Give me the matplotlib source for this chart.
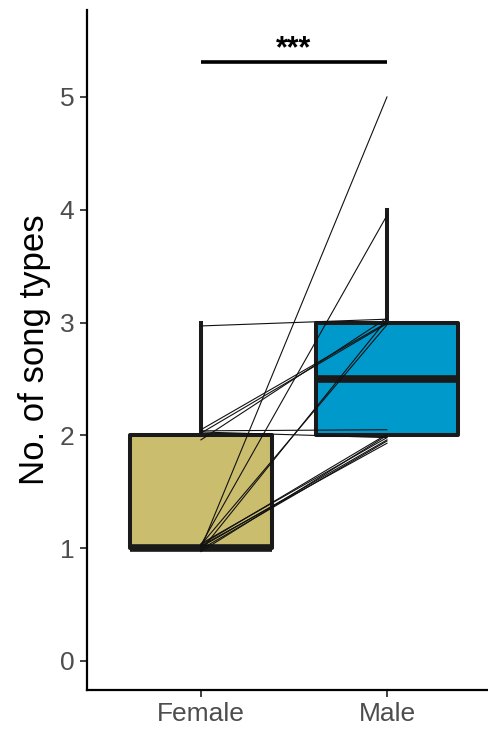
import matplotlib
matplotlib.use("Agg")
import matplotlib.pyplot as plt
import numpy as np

plt.rcParams['font.family'] = ['Liberation Sans', 'DejaVu Sans']

# Paired song-type counts per individual (female, male)
groups = ["Female", "Male"]
female = [1, 1, 1, 1, 1, 1, 2, 2, 1, 1, 2, 2, 2, 3, 1, 1]
male = [2, 2, 2, 2, 2, 2, 2, 2, 3, 3, 3, 3, 3, 3, 4, 5]
# small vertical jitter so overlapping pair lines stay visible
female_jitter = [0.02, -0.01, 0.04, -0.03, 0.01, 0.03, 0.04, 0.03,
                 -0.02, 0.03, 0.05, -0.04, 0.02, -0.03, 0.03, 0.0]
male_jitter = [-0.07, -0.05, -0.02, 0.0, -0.04, 0.01, 0.05, -0.02,
               0.03, -0.02, 0.0, 0.04, -0.01, 0.03, -0.05, 0.0]
box_colors = ["#CBBD6E", "#0099CC"]
sig_label = "***"
sig_height = 5.31

fig = plt.figure(figsize=(4.88, 7.33), dpi=100)
ax = fig.add_axes([0.178, 0.0587, 0.822, 0.9277])

edge = "#1A1A1A"
bp = ax.boxplot([female, male], positions=[1, 2], widths=0.76,
                patch_artist=True, showfliers=False, whis=1.5,
                medianprops=dict(color=edge, linewidth=5.5, solid_capstyle='butt'),
                boxprops=dict(edgecolor=edge, linewidth=2.9),
                whiskerprops=dict(color=edge, linewidth=2.9),
                capprops=dict(linewidth=0), zorder=2)
for patch, c in zip(bp['boxes'], box_colors):
    patch.set_facecolor(c)
    patch.set_joinstyle('round')

# pair lines
for f, m, fj, mj in zip(female, male, female_jitter, male_jitter):
    ax.plot([1, 2], [f + fj, m + mj], color="#111111", linewidth=0.8, zorder=3)

# significance bar
ax.plot([1, 2], [sig_height, sig_height], color="black", linewidth=2.6,
        solid_capstyle='butt', zorder=4)
ax.text(1.5, sig_height - 0.02, sig_label, ha='center', va='bottom',
        fontsize=22, fontweight='bold', color='black')

ax.set_xlim(0.387, 2.543)
ax.set_ylim(-0.257, 5.771)
ax.set_xticks([1, 2])
ax.set_xticklabels(groups)
ax.set_yticks([0, 1, 2, 3, 4, 5])
ax.set_ylabel("No. of song types", fontsize=25, color='black', labelpad=6)

ax.tick_params(axis='both', colors='#333333', labelcolor='#4D4D4D',
               labelsize=19, length=5, width=1.3)
ax.tick_params(axis='y', pad=4)
ax.tick_params(axis='x', pad=4)
for s in ['top', 'right']:
    ax.spines[s].set_visible(False)
for s in ['left', 'bottom']:
    ax.spines[s].set_linewidth(1.6)
    ax.spines[s].set_color('black')

fig.savefig("out.png", dpi=100)
